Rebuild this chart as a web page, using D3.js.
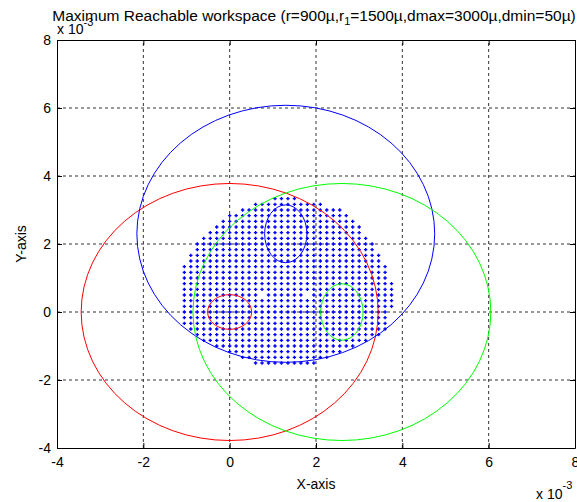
<!DOCTYPE html>
<html>
<head>
  <meta charset="UTF-8">
  <title>Maximum Reachable workspace</title>
  <style>
    body { margin: 0; background: #fff; }
    svg { display: block; font-family: "Liberation Sans", Arial, sans-serif; }
  </style>
</head>
<body>
<svg></svg>
<script src="https://d3js.org/d3.v7.min.js"></script>
<script>
    let width = 577, height = 502;

    // axis ticks (units of 1e-3)
    var xTicks = [-4, -2, 0, 2, 4, 6, 8];
    var yTicks = [-4, -2, 0, 2, 4, 6, 8];

    // big workspace boundaries: centre x, centre y, radius x, radius y
    var bigCx = [0, 1.3, 2.6];
    var bigCy = [0, 2.3, 0];
    var bigRx = [3.44, 3.45, 3.45];
    var bigRy = [3.78, 3.78, 3.78];

    // small ellipses at the three anchors
    var smallCx = [0, 1.3, 2.6];
    var smallCy = [0, 2.3, 0];
    var smallRx = [0.51, 0.49, 0.49];
    var smallRy = [0.51, 0.85, 0.83];

    var ringColors = ["#ff0000", "#0000ff", "#00ff00"];

    // reachable points: grid step in x and y, then one row per grid line
    var dotStepX = 0.15;
    var dotStepY = 1 / 6;
    // [row index, first column, last column]
    var dotRows = [
        [20, 7, 10], [19, 4, 14], [18, 2, 17], [17, 0, 18], [16, -1, 19],
        [15, -2, 20], [14, -3, 20], [13, -4, 21], [12, -5, 22], [11, -5, 22],
        [10, -6, 23], [9, -6, 23], [8, -7, 24], [7, -7, 24], [6, -7, 24],
        [5, -7, 25], [4, -7, 25], [3, -7, 25], [2, -7, 25], [1, -7, 25],
        [0, -7, 24], [-1, -7, 24], [-2, -7, 24], [-3, -6, 24], [-4, -5, 23],
        [-5, -4, 21], [-6, -2, 19], [-7, 0, 17], [-8, 2, 15], [-9, 4, 13]
    ];
    // grid points that are missing in the picture [column, row]
    var dotGaps = [[5, 3], [12, 3]];

    let svg = d3.select("svg")
        .attr("width", width)
        .attr("height", height);

    let x = d3.scaleLinear().domain([-4, 8]).range([57, 575]);
    let y = d3.scaleLinear().domain([-4, 8]).range([448, 40]);

    // grid
    svg.append("g").selectAll("line")
        .data(xTicks.slice(1, -1))
        .enter().append("line")
        .attr("x1", d => x(d)).attr("x2", d => x(d))
        .attr("y1", y(-4)).attr("y2", y(8))
        .attr("stroke", "#333").attr("stroke-dasharray", "3,3");
    svg.append("g").selectAll("line")
        .data(yTicks.slice(1, -1))
        .enter().append("line")
        .attr("y1", d => y(d)).attr("y2", d => y(d))
        .attr("x1", x(-4)).attr("x2", x(8))
        .attr("stroke", "#333").attr("stroke-dasharray", "3,3");

    // points
    var points = [];
    dotRows.forEach(function (r) {
        for (let i = r[1]; i <= r[2]; i++) {
            let gap = dotGaps.some(g => g[0] == i && g[1] == r[0]);
            if (!gap) points.push([i * dotStepX, r[0] * dotStepY]);
        }
    });
    svg.append("g").selectAll("path")
        .data(points)
        .enter().append("path")
        .attr("transform", d => "translate(" + x(d[0]) + "," + y(d[1]) + ")")
        .attr("d", "M-1.7,0H1.7M0,-1.7V1.7")
        .attr("stroke", "#0000ff")
        .attr("stroke-width", 1.4);

    // ellipses
    svg.append("g").selectAll("ellipse")
        .data(bigCx)
        .enter().append("ellipse")
        .attr("cx", (d, i) => x(d))
        .attr("cy", (d, i) => y(bigCy[i]))
        .attr("rx", (d, i) => x(d + bigRx[i]) - x(d))
        .attr("ry", (d, i) => y(bigCy[i]) - y(bigCy[i] + bigRy[i]))
        .attr("fill", "none")
        .attr("stroke", (d, i) => ringColors[i]);
    svg.append("g").selectAll("ellipse")
        .data(smallCx)
        .enter().append("ellipse")
        .attr("cx", (d, i) => x(d))
        .attr("cy", (d, i) => y(smallCy[i]))
        .attr("rx", (d, i) => x(d + smallRx[i]) - x(d))
        .attr("ry", (d, i) => y(smallCy[i]) - y(smallCy[i] + smallRy[i]))
        .attr("fill", "none")
        .attr("stroke", (d, i) => ringColors[i]);

    // axes box with inward ticks
    function styleAxis(g) {
        g.select(".domain").attr("stroke", "#000");
        g.selectAll(".tick line").attr("stroke", "#000");
        g.selectAll("text").attr("fill", "#000").style("font-size", "14px")
            .style("font-family", "\"Liberation Sans\", Arial, sans-serif");
    }
    let plain = d => d.toString();
    svg.append("g").attr("transform", "translate(0," + y(-4) + ")")
        .call(d3.axisBottom(x).tickValues(xTicks).tickFormat(plain)
            .tickSizeInner(-5).tickSizeOuter(0).tickPadding(9))
        .call(styleAxis);
    svg.append("g").attr("transform", "translate(0," + y(8) + ")")
        .call(d3.axisTop(x).tickValues(xTicks).tickFormat("")
            .tickSizeInner(-5).tickSizeOuter(0))
        .call(styleAxis);
    svg.append("g").attr("transform", "translate(" + x(-4) + ",0)")
        .call(d3.axisLeft(y).tickValues(yTicks).tickFormat(plain)
            .tickSizeInner(-5).tickSizeOuter(0).tickPadding(6))
        .call(styleAxis);
    svg.append("g").attr("transform", "translate(" + x(8) + ",0)")
        .call(d3.axisRight(y).tickValues(yTicks).tickFormat("")
            .tickSizeInner(-5).tickSizeOuter(0))
        .call(styleAxis);

    // exponent labels
    let expTop = svg.append("text").attr("x", 57).attr("y", 34).style("font-size", "14px");
    expTop.append("tspan").text("x 10");
    expTop.append("tspan").attr("dy", -8).style("font-size", "11px").text("-3");

    let expBottom = svg.append("text").attr("x", 536).attr("y", 499).style("font-size", "14px");
    expBottom.append("tspan").text("x 10");
    expBottom.append("tspan").attr("dy", -10).style("font-size", "11px").text("-3");

    // title
    let title = svg.append("text")
        .attr("x", 314)
        .attr("y", 21)
        .attr("text-anchor", "middle")
        .style("font-size", "15.5px");
    title.append("tspan").text("Maximum Reachable workspace (r=900µ,r");
    title.append("tspan").attr("dy", 4).style("font-size", "11px").text("1");
    title.append("tspan").attr("dy", -4).text("=1500µ,dmax=3000µ,dmin=50µ)");

    // axis labels
    svg.append("text")
        .attr("x", (x(-4) + x(8)) / 2)
        .attr("y", 489)
        .attr("text-anchor", "middle")
        .style("font-size", "14px")
        .text("X-axis");
    svg.append("text")
        .attr("transform", "translate(26," + ((y(-4) + y(8)) / 2) + ") rotate(-90)")
        .attr("text-anchor", "middle")
        .style("font-size", "14px")
        .text("Y-axis");
</script>
</body>
</html>
